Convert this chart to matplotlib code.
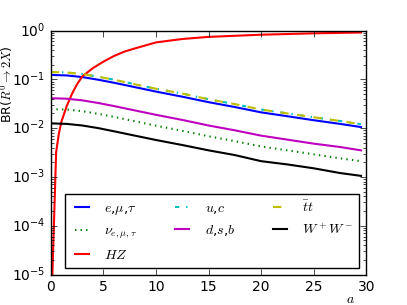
import matplotlib
matplotlib.use("Agg")
import matplotlib.pyplot as plt

plt.style.use("classic")
plt.rcParams["font.size"] = 10

# smooth branching ratios vs a
a_vals = [0, 1.5, 3, 4.5, 6, 8, 10, 12.5, 15, 17.5, 20, 22.5, 25, 27.5, 29.5]
br_lep = [0.123, 0.120, 0.111, 0.098, 0.085, 0.069, 0.056, 0.044, 0.034,
          0.027, 0.021, 0.0175, 0.0145, 0.0122, 0.0105]
br_nu = [0.0245, 0.024, 0.0222, 0.0196, 0.017, 0.0138, 0.0112, 0.0088,
         0.0068, 0.0054, 0.0042, 0.0035, 0.0029, 0.0024, 0.0021]
br_uc = [0.141, 0.138, 0.128, 0.113, 0.098, 0.079, 0.064, 0.051, 0.039,
         0.031, 0.024, 0.020, 0.0167, 0.014, 0.012]
br_dsb = [0.041, 0.040, 0.037, 0.0327, 0.0283, 0.023, 0.0187, 0.0147,
          0.0113, 0.009, 0.007, 0.0058, 0.0048, 0.0041, 0.0035]
br_tt = [0.141, 0.138, 0.128, 0.113, 0.098, 0.079, 0.064, 0.051, 0.039,
         0.031, 0.024, 0.020, 0.0167, 0.014, 0.012]
br_ww = [0.0125, 0.0122, 0.0113, 0.010, 0.0086, 0.007, 0.0057, 0.0045,
         0.0035, 0.0028, 0.0021, 0.0018, 0.0015, 0.0012, 0.00105]

# HZ channel rises from zero
a_hz = [0.1, 0.5, 0.75, 1, 1.5, 2, 2.5, 3, 4, 5, 6, 7, 8, 10, 12.5, 15, 20, 25, 29.5]
br_hz = [5e-6, 3.2e-3, 7.5e-3, 0.0135, 0.028, 0.05, 0.08, 0.115, 0.17, 0.23,
         0.30, 0.37, 0.43, 0.57, 0.67, 0.74, 0.82, 0.875, 0.91]

fig = plt.figure(figsize=(4.07, 3.05), dpi=100, facecolor="white")
ax = fig.add_subplot(111)
fig.subplots_adjust(left=0.125, right=0.9, bottom=0.1, top=0.9)

lw = 1.5
ax.semilogy(a_vals, br_lep, "b-", lw=lw, label=r"$e$,$\mu$,$\tau$")
ax.semilogy(a_vals, br_nu, "g:", lw=lw, label=r"$\nu_{e,\mu,\tau}$")
ax.semilogy(a_hz, br_hz, "r-", lw=lw, label=r"$HZ$")
ax.semilogy(a_vals, br_uc, "c-.", lw=lw, label=r"$u$,$c$")
ax.semilogy(a_vals, br_dsb, "m-", lw=lw, label=r"$d$,$s$,$b$")
ax.semilogy(a_vals, br_tt, "y--", lw=lw, label=r"$\bar{t}t$")
ax.semilogy(a_vals, br_ww, "k-", lw=lw, label=r"$W^+W^-$")

ax.set_xlim(0, 30)
ax.set_ylim(1e-5, 1)
ax.set_ylabel(r"BR($R^0\to 2X$)", fontsize=9)
ax.yaxis.set_label_coords(-0.114, 0.78)
ax.set_xlabel(r"$a$")
ax.xaxis.set_label_coords(0.95, -0.072)

ax.legend(loc="lower right", ncol=3, fontsize=10, handlelength=1.6,
          columnspacing=2.45, handletextpad=0.8)

fig.savefig("out.png", dpi=100, facecolor="white")
